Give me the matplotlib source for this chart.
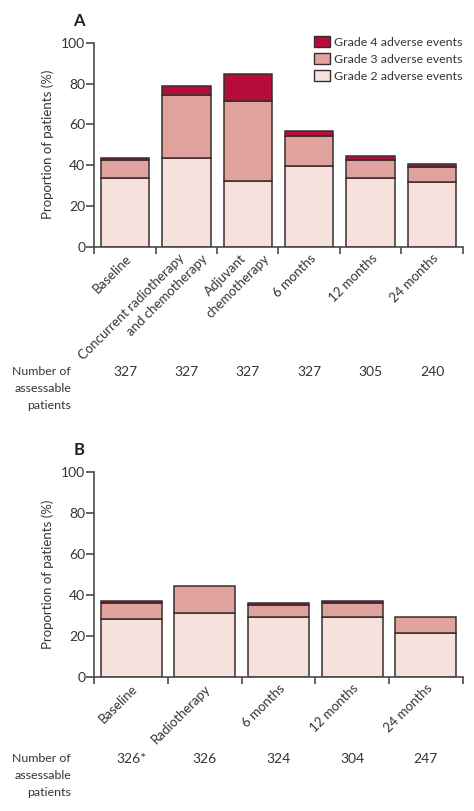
import matplotlib
matplotlib.use("Agg")
import matplotlib.pyplot as plt
from matplotlib.patches import Patch
from matplotlib.transforms import offset_copy
import numpy as np

plt.rcParams['font.family'] = ['Lato', 'DejaVu Sans']

# Panel A data
cats_a = [["Baseline"], ["Concurrent radiotherapy", "and chemotherapy"], ["Adjuvant", "chemotherapy"],
          ["6 months"], ["12 months"], ["24 months"]]
g2_a = [33.5, 43.5, 32.4, 39.4, 33.5, 31.5]
g3_a = [8.8, 30.8, 39.0, 15.0, 8.8, 7.7]
g4_a = [1.3, 4.3, 13.4, 2.3, 2.3, 1.2]
n_a = ["327", "327", "327", "327", "305", "240"]

# Panel B data
cats_b = [["Baseline"], ["Radiotherapy"], ["6 months"], ["12 months"], ["24 months"]]
g2_b = [28.2, 31.0, 29.4, 29.0, 21.2]
g3_b = [8.0, 13.4, 5.7, 7.2, 8.2]
g4_b = [1.0, 0.0, 1.1, 1.0, 0.0]
n_b = ["326*", "326", "324", "304", "247"]

yticks = [0, 20, 40, 60, 80, 100]
legend_labels = ["Grade 4 adverse events", "Grade 3 adverse events", "Grade 2 adverse events"]
n_label = ["Number of", "assessable", "patients"]

C2 = "#f6e1dd"
C3 = "#dfa29c"
C4 = "#b70b3a"
EDGE = "#3a2d2d"
AX = "#4a4a4a"
TXT = "#353535"
FS = 9.5

fig = plt.figure(figsize=(4.74, 8.11), dpi=100)


def panel(rect, cats, g2, g3, g4, ns, bw, letter, legend=False, n_y=None):
    ax = fig.add_axes(rect)
    x = np.arange(len(cats))
    g2 = np.array(g2); g3 = np.array(g3); g4 = np.array(g4)
    kw = dict(width=bw, edgecolor=EDGE, linewidth=1.1)
    ax.bar(x, g2, color=C2, **kw)
    ax.bar(x, g3, bottom=g2, color=C3, **kw)
    m = g4 > 0
    ax.bar(x[m], g4[m], bottom=(g2 + g3)[m], color=C4, **kw)
    ax.set_xlim(-0.5, len(cats) - 0.5)
    ax.set_ylim(0, 100)
    for s in ["top", "right"]:
        ax.spines[s].set_visible(False)
    for s in ["left", "bottom"]:
        ax.spines[s].set_color(AX)
        ax.spines[s].set_linewidth(1.2)
    ax.spines["left"].set_bounds(0, 100)
    ax.set_yticks(yticks)
    ax.set_yticklabels([str(v) for v in yticks], fontsize=FS + 0.5, color=TXT)
    ax.set_xticks(np.arange(len(cats) + 1) - 0.5)
    ax.set_xticklabels([])
    ax.tick_params(axis="x", which="major", length=5, width=1.2, color=AX, direction="out")
    ax.tick_params(axis="y", length=6, width=1.2, color=AX, pad=0.5)
    ax.set_ylabel("Proportion of patients (%)", fontsize=FS, color=TXT, labelpad=5)
    ax.text(-0.041, 1.108, letter, transform=ax.transAxes, fontsize=12, fontweight="bold",
            color="#222222", ha="center", va="center")
    # rotated category labels, lines right-ended along a horizontal line
    xt = ax.get_xaxis_transform()
    for xi, lines in zip(x, cats):
        if len(lines) == 1:
            dxs = [0]
        else:
            dxs = [-8, 15]
        for line, dx in zip(lines, dxs):
            t = offset_copy(xt, fig=fig, x=dx, y=-5.5, units="dots")
            ax.text(xi, 0, line, transform=t, rotation=45, ha="right", va="top",
                    rotation_mode="anchor", fontsize=FS, color=TXT, clip_on=False)
    # numbers row
    for xi, n in zip(x, ns):
        ax.text(xi, n_y, n, transform=xt, ha="center", va="center",
                fontsize=FS + 0.5, color=TXT, clip_on=False)
    for k, line in enumerate(n_label):
        t = offset_copy(ax.transAxes, fig=fig, x=0, y=-17 * k, units="dots")
        ax.text(-0.063, n_y, line, transform=t, ha="right", va="center",
                fontsize=8.9, color=TXT, clip_on=False)
    if legend:
        handles = [Patch(facecolor=C4, edgecolor=EDGE, linewidth=1.0),
                   Patch(facecolor=C3, edgecolor=EDGE, linewidth=1.0),
                   Patch(facecolor=C2, edgecolor=EDGE, linewidth=1.0)]
        ax.legend(handles, legend_labels, loc="upper right", bbox_to_anchor=(1.0, 1.033),
                  frameon=False, fontsize=8.9, handlelength=1.3, handleheight=0.95,
                  handletextpad=0.35, labelspacing=0.45, borderaxespad=0.0,
                  borderpad=0.0, labelcolor=TXT)
    return ax


panel([0.199, 0.6958, 0.777, 0.2515], cats_a, g2_a, g3_a, g4_a, n_a, 0.79, "A",
      legend=True, n_y=-0.614)
panel([0.199, 0.1656, 0.777, 0.252], cats_b, g2_b, g3_b, g4_b, n_b, 0.83, "B",
      n_y=-0.4027)

fig.savefig("out.png", dpi=100, facecolor="white")
